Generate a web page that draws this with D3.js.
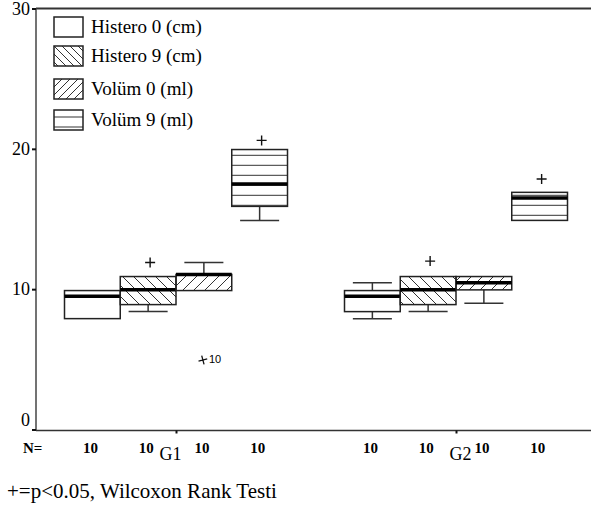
<!DOCTYPE html>
<html>
<head>
<meta charset="utf-8">
<script src="https://cdn.jsdelivr.net/npm/d3@7"></script>
<style>
  body { margin: 0; background: #fff; }
  svg { display: block; }
  text { font-family: "Liberation Serif", "Times New Roman", serif; fill: #000; }
</style>
</head>
<body>
<div id="chart"></div>
<script>
// --- Data ---
const groups = ['G1', 'G2'];
const series = ['Histero 0 (cm)', 'Histero 9 (cm)', 'Volüm 0 (ml)', 'Volüm 9 (ml)'];

// one entry per box: G1 boxes first, then G2
const minVals = [7.9, 8.4, 9.9, 14.9, 7.9, 8.4, 9.0, 14.9];
const q1Vals  = [7.9, 8.9, 9.9, 15.9, 8.4, 8.9, 9.95, 14.9];
const medVals = [9.5, 9.95, 11.05, 17.5, 9.5, 9.95, 10.45, 16.5];
const q3Vals  = [9.9, 10.9, 11.05, 19.95, 9.9, 10.9, 10.9, 16.9];
const maxVals = [9.9, 10.9, 11.9, 19.95, 10.45, 10.9, 10.9, 16.9];
const sigVals = [null, 11.9, null, 20.6, null, 12.0, null, 17.85];
const nCounts = [10, 10, 10, 10, 10, 10, 10, 10];
const outliers = [{ box: 2, value: 4.95, label: '10' }];
const yTicks = [0, 10, 20, 30];

// --- Styles ---
const fills = ['#fff', 'url(#hatchBack)', 'url(#hatchFwd)', 'url(#hatchHoriz)'];
const legendFills = ['#fff', 'url(#lgBack)', 'url(#lgFwd)', 'url(#lgHoriz)'];
const ink = '#222';
const serif = '"Liberation Serif", "Times New Roman", serif';

const width = 591, height = 512;
const svg = d3.select('#chart').append('svg')
    .attr('width', width)
    .attr('height', height);

// --- Patterns ---
const defs = svg.append('defs');
function hatch(id, size, d, offsetY = 0) {
    defs.append('pattern')
        .attr('id', id)
        .attr('patternUnits', 'userSpaceOnUse')
        .attr('width', size).attr('height', size)
        .attr('y', offsetY)
        .append('path')
        .attr('d', d)
        .attr('stroke', '#333')
        .attr('stroke-width', 1)
        .attr('fill', 'none');
}
const backPath = s => `M0,0L${s},${s}M-2,${s - 2}L2,${s + 2}M${s - 2},-2L${s + 2},2`;
const fwdPath = s => `M0,${s}L${s},0M-2,2L2,-2M${s - 2},${s + 2}L${s + 2},${s - 2}`;
hatch('hatchBack', 11, backPath(11));
hatch('hatchFwd', 11, fwdPath(11));
hatch('hatchHoriz', 10, 'M0,0.5L10,0.5', 4.8);
hatch('lgBack', 8, backPath(8));
hatch('lgFwd', 8, fwdPath(8));
hatch('lgHoriz', 10, 'M0,0.5L10,0.5', 6.5);

// --- Scales ---
const plot = { left: 36, right: 596, top: 8.5, bottom: 430.5 };
const y = d3.scaleLinear().domain([0, 30]).range([429.5, 8.5]);
const xGroup = d3.scalePoint().domain(groups).range([plot.left, plot.right]).padding(0.5);
const xSeries = d3.scaleBand().domain(series).range([-111.5, 111.5]);

const boxes = [];
groups.forEach((g, gi) => series.forEach((s, si) => {
    const i = gi * series.length + si;
    boxes.push({
        group: g, series: s, si, i,
        x: xGroup(g) + xSeries(s),
        cx: xGroup(g) + xSeries(s) + xSeries.bandwidth() / 2,
        min: minVals[i], q1: q1Vals[i], med: medVals[i], q3: q3Vals[i], max: maxVals[i],
        sig: sigVals[i], n: nCounts[i]
    });
}));

// --- Frame & axes ---
svg.append('line')
    .attr('x1', plot.left).attr('x2', plot.right)
    .attr('y1', plot.top).attr('y2', plot.top)
    .attr('stroke', '#333').attr('stroke-width', 2);
svg.append('line')
    .attr('x1', plot.left).attr('x2', plot.left)
    .attr('y1', plot.top).attr('y2', plot.bottom)
    .attr('stroke', '#444').attr('stroke-width', 1.5);
svg.append('line')
    .attr('x1', plot.left).attr('x2', plot.right)
    .attr('y1', plot.bottom).attr('y2', plot.bottom)
    .attr('stroke', '#333').attr('stroke-width', 1.5);

const yAxis = svg.append('g')
    .attr('transform', `translate(${plot.left},0)`)
    .call(d3.axisLeft(y).tickValues(yTicks).tickSize(4).tickPadding(2));
yAxis.attr('font-family', null).attr('font-size', null);
yAxis.select('.domain').remove();
yAxis.selectAll('line').attr('stroke', '#111').attr('stroke-width', 2);
yAxis.selectAll('text')
    .style('font-family', serif)
    .style('font-size', '18px')
    .attr('fill', '#000')
    .attr('dy', d => d === 0 ? '-0.2em' : '0.32em');

const xAxis = svg.append('g')
    .attr('transform', `translate(0,${plot.bottom})`)
    .call(d3.axisBottom(xGroup).tickSize(3));
xAxis.attr('font-family', null).attr('font-size', null);
xAxis.select('.domain').remove();
xAxis.selectAll('line').attr('stroke', '#111').attr('stroke-width', 2);
xAxis.selectAll('text')
    .style('font-family', serif)
    .style('font-size', '18px')
    .attr('fill', '#000')
    .attr('y', 29).attr('dy', 0)
    .attr('dx', d => d === 'G1' ? -6 : 4);

// --- Boxes ---
const capW = xSeries.bandwidth() * 0.7;
const box = svg.append('g').selectAll('g').data(boxes).join('g');

// whiskers
box.append('line')
    .attr('x1', d => d.cx).attr('x2', d => d.cx)
    .attr('y1', d => y(d.q3)).attr('y2', d => y(d.max))
    .attr('stroke', '#333').attr('stroke-width', 1.5);
box.append('line')
    .attr('x1', d => d.cx).attr('x2', d => d.cx)
    .attr('y1', d => y(d.q1)).attr('y2', d => y(d.min))
    .attr('stroke', '#333').attr('stroke-width', 1.5);
box.filter(d => d.max > d.q3).append('line')
    .attr('x1', d => d.cx - capW / 2).attr('x2', d => d.cx + capW / 2)
    .attr('y1', d => y(d.max)).attr('y2', d => y(d.max))
    .attr('stroke', '#333').attr('stroke-width', 1.5);
box.filter(d => d.min < d.q1).append('line')
    .attr('x1', d => d.cx - capW / 2).attr('x2', d => d.cx + capW / 2)
    .attr('y1', d => y(d.min)).attr('y2', d => y(d.min))
    .attr('stroke', '#333').attr('stroke-width', 1.5);

box.append('rect')
    .attr('x', d => d.x)
    .attr('width', xSeries.bandwidth())
    .attr('y', d => y(d.q3))
    .attr('height', d => y(d.q1) - y(d.q3))
    .attr('fill', d => fills[d.si])
    .attr('stroke', ink)
    .attr('stroke-width', 1.5);

// median
box.append('line')
    .attr('x1', d => d.x).attr('x2', d => d.x + xSeries.bandwidth())
    .attr('y1', d => y(d.med)).attr('y2', d => y(d.med))
    .attr('stroke', '#000').attr('stroke-width', 3.5);

// significance marks
const plus = (cx, cy, r) => `M${cx - r},${cy}H${cx + r}M${cx},${cy - r}V${cy + r}`;
box.filter(d => d.sig != null).append('path')
    .attr('d', d => plus(d.cx + 2, y(d.sig), 5))
    .attr('stroke', '#111').attr('stroke-width', 1.4);

// outliers
outliers.forEach(o => {
    const b = boxes[o.box];
    svg.append('path')
        .attr('d', plus(b.cx - 1, y(o.value), 4.5))
        .attr('stroke', '#111').attr('stroke-width', 1.3)
        .attr('transform', `rotate(-15,${b.cx - 1},${y(o.value)})`);
    svg.append('text')
        .attr('x', b.cx + 5)
        .attr('y', y(o.value) + 3)
        .style('font-family', '"Liberation Sans", Arial, sans-serif')
        .style('font-size', '11px')
        .text(o.label);
});

// --- N row ---
svg.append('text')
    .attr('x', 23).attr('y', 453)
    .style('font-size', '15px').style('font-weight', 'bold')
    .text('N=');
svg.append('g').selectAll('text').data(boxes).join('text')
    .attr('x', d => d.cx - 2)
    .attr('y', 453)
    .attr('text-anchor', 'middle')
    .style('font-size', '15px').style('font-weight', 'bold')
    .text(d => d.n);

// --- Legend ---
const legendRows = [17, 46, 79, 110];
const legend = svg.append('g').selectAll('g').data(series).join('g')
    .attr('transform', (d, i) => `translate(54,${legendRows[i]})`);
legend.append('rect')
    .attr('width', 29).attr('height', 20)
    .attr('fill', (d, i) => legendFills[i])
    .attr('stroke', ink).attr('stroke-width', 1.5);
legend.append('text')
    .attr('x', 37).attr('y', 16)
    .style('font-size', '19px')
    .text(d => d);

// --- Footnote ---
svg.append('text')
    .attr('x', 7).attr('y', 498)
    .style('font-size', '21px')
    .text('+=p<0.05, Wilcoxon Rank Testi');
</script>
</body>
</html>
